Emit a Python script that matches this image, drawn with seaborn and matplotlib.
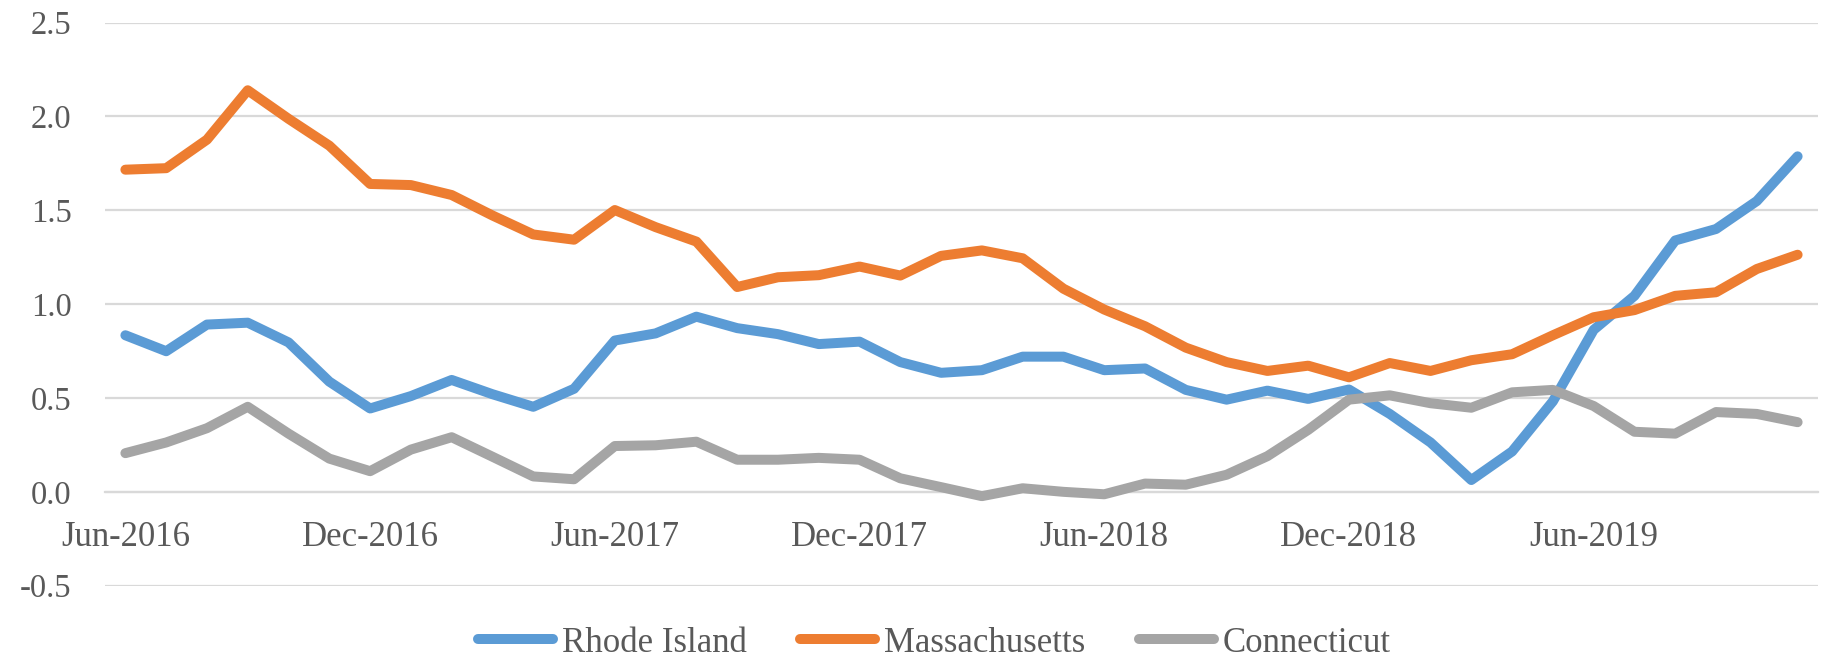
import numpy as np
import pandas as pd
import matplotlib
matplotlib.use("Agg")
import matplotlib.pyplot as plt
import seaborn as sns
from matplotlib.ticker import FixedLocator, NullFormatter

# ---------------- data ----------------
months = [d.strftime("%b-%Y") for d in pd.date_range("2016-06-01", periods=42, freq="MS")]
tick_labels = ["Jun-2016", "Dec-2016", "Jun-2017", "Dec-2017", "Jun-2018", "Dec-2018", "Jun-2019"]
series_names = ["Rhode Island", "Massachusetts", "Connecticut"]

rhode_island = [0.834, 0.749, 0.891, 0.901, 0.796, 0.587, 0.444, 0.510, 0.596, 0.520,
                0.453, 0.549, 0.806, 0.844, 0.933, 0.872, 0.840, 0.787, 0.800, 0.691,
                0.634, 0.648, 0.720, 0.720, 0.648, 0.657, 0.543, 0.491, 0.539, 0.495,
                0.545, 0.415, 0.263, 0.063, 0.215, 0.482, 0.863, 1.044, 1.339, 1.400,
                1.549, 1.787]
massachusetts = [1.716, 1.724, 1.876, 2.139, 1.987, 1.844, 1.640, 1.634, 1.581, 1.472,
                 1.371, 1.343, 1.501, 1.410, 1.333, 1.091, 1.143, 1.154, 1.200, 1.152,
                 1.257, 1.286, 1.244, 1.082, 0.971, 0.882, 0.768, 0.691, 0.644, 0.672,
                 0.610, 0.686, 0.644, 0.701, 0.733, 0.834, 0.930, 0.968, 1.044, 1.063,
                 1.187, 1.263]
connecticut = [0.206, 0.263, 0.339, 0.453, 0.310, 0.177, 0.110, 0.225, 0.291, 0.187,
               0.082, 0.067, 0.244, 0.248, 0.267, 0.171, 0.171, 0.181, 0.171, 0.072,
               0.025, -0.023, 0.019, 0.000, -0.013, 0.044, 0.038, 0.091, 0.190, 0.330,
               0.491, 0.514, 0.472, 0.448, 0.530, 0.543, 0.457, 0.320, 0.310, 0.425,
               0.415, 0.371]

colors = ["#5B9BD5", "#ED7D31", "#A5A5A5"]

# ---------------- frame ----------------
rows = []
for name, vals in zip(series_names, [rhode_island, massachusetts, connecticut]):
    for i, (m, v) in enumerate(zip(months, vals)):
        rows.append({"idx": i, "month": m, "state": name, "value": v})
df = pd.DataFrame(rows)

sns.set_theme(style="white")
plt.rcParams["font.family"] = ["Liberation Serif", "DejaVu Serif"]

fig = plt.figure(figsize=(18.32, 6.6), dpi=100)
ax = fig.add_axes([105 / 1832, 1 - 585.7 / 660, (1818 - 105) / 1832, (585.7 - 22.5) / 660])

grid_c = "#D9D9D9"
text_c = "#595959"
lw = 7.2

sns.lineplot(data=df, x="idx", y="value", hue="state", hue_order=series_names,
             palette=colors, linewidth=lw, ax=ax, sort=False, legend=True)
for ln in ax.get_lines():
    ln.set_solid_capstyle("round")
    ln.set_solid_joinstyle("round")

ax.set_xlim(-0.5, len(months) - 0.5)
ax.set_ylim(-0.5, 2.5)
ax.set_yticks(np.arange(-0.5, 2.51, 0.5))
ax.set_yticklabels([f"{v:.1f}" for v in np.arange(-0.5, 2.51, 0.5)])
ax.yaxis.grid(True, color=grid_c, linewidth=1.6)
ax.xaxis.grid(False)
ax.set_axisbelow(True)

for s in ["top", "right", "left"]:
    ax.spines[s].set_visible(False)
ax.spines["bottom"].set_position(("data", 0))
ax.spines["bottom"].set_color(grid_c)
ax.spines["bottom"].set_linewidth(1.6)
ax.spines["bottom"].set_zorder(0.5)

label_pos = [months.index(t) for t in tick_labels]
ax.set_xticks(label_pos)
ax.set_xticklabels(tick_labels)
ax.xaxis.set_minor_locator(FixedLocator(np.arange(-0.5, len(months), 6)))
ax.xaxis.set_minor_formatter(NullFormatter())
ax.tick_params(axis="x", which="major", length=0, pad=21, labelsize=25, labelcolor=text_c)
ax.tick_params(axis="x", which="minor", length=7.2, width=1.6, color=grid_c, direction="out")
ax.tick_params(axis="y", length=0, pad=24, labelsize=23.5, labelcolor=text_c)
ax.set_xlabel("")
ax.set_ylabel("")

handles, labels = ax.get_legend_handles_labels()
ax.get_legend().remove()
leg = fig.legend(handles, labels, loc="center", bbox_to_anchor=(0.510, 1 - 643 / 660),
                 bbox_transform=fig.transFigure, ncol=3, frameon=False, fontsize=25,
                 handlelength=2.16, handletextpad=0.27, columnspacing=1.53,
                 labelcolor=text_c)
for h in leg.get_lines():
    h.set_linewidth(lw)
    h.set_solid_capstyle("round")

fig.savefig("out.png", dpi=100, facecolor="white")
